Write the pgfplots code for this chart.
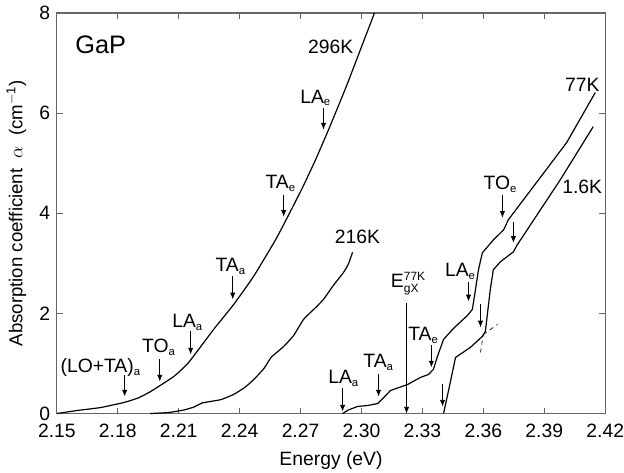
\documentclass[border=0pt]{standalone}
\usepackage{fontspec}
\setmainfont{Liberation Sans}
\usepackage{pgfplots}
\pgfplotsset{compat=1.18}
\usetikzlibrary{arrows.meta}
\newcommand{\sbs}[1]{\textsubscript{\fontsize{8.5}{9}\selectfont #1}}
\begin{document}
\fontsize{14.5}{17}\selectfont
\begin{tikzpicture}[
  lab/.style={anchor=base, inner sep=0pt, font=\fontsize{14.5}{17}\selectfont},
  arr/.style={-{Latex[length=5pt,width=4pt]}, line width=0.6pt, black},
]
\begin{axis}[
  scale only axis, width=411.75pt, height=300.75pt,
  xmin=2.15, xmax=2.42, ymin=0, ymax=8,
  xtick={2.15,2.18,2.21,2.24,2.27,2.30,2.33,2.36,2.39,2.42},
  ytick={0,2,4,6,8},
  xticklabel style={inner xsep=0pt, inner ysep=1pt, yshift=-6.5pt, /pgf/number format/.cd, fixed, fixed zerofill, precision=2},
  yticklabel style={inner ysep=1pt},
  tick label style={font=\fontsize{14.5}{17}\selectfont},
  xlabel style={font=\fontsize{14.5}{17}\selectfont, inner ysep=2pt, yshift=-7.5pt},
  ylabel style={font=\fontsize{14}{17}\selectfont},
  /pgf/number format/assume math mode=true,
  tick align=inside, major tick length=4.5pt,
  axis line style={black!60, line width=0.9pt},
  tick style={black!60, line width=0.9pt},
  xlabel={Energy (eV)},
  ylabel={Absorption coefficient \ $\alpha$ \ (cm\textsuperscript{$-$1})},
  clip=false,
]
% 296K
\addplot[black, line width=0.9pt, smooth, tension=0.3] coordinates {
(2.150,0.00) (2.160,0.06) (2.1716,0.12) (2.183,0.22) (2.1900,0.31) (2.1962,0.44)
(2.2076,0.74) (2.2149,1.02) (2.2272,1.68) (2.2371,2.18) (2.2469,2.74)
(2.2577,3.47) (2.2638,3.94) (2.2713,4.54) (2.2774,5.07) (2.2838,5.67)
(2.2925,6.53) (2.2995,7.27) (2.3064,8.00)};
% 216K
\addplot[black, line width=0.9pt, smooth, tension=0.3] coordinates {
(2.196,0.00) (2.205,0.02) (2.2125,0.07) (2.2175,0.13) (2.2215,0.21) (2.2255,0.24)
(2.231,0.28) (2.237,0.38) (2.2425,0.52) (2.247,0.68) (2.252,0.90) (2.2555,1.12)
(2.2617,1.34) (2.2666,1.56) (2.2715,1.88) (2.2775,2.12) (2.2813,2.28) (2.286,2.55)
(2.291,2.81) (2.2935,2.98) (2.2956,3.22)};
% 77K
\addplot[black, line width=0.9pt] coordinates {
(2.2907,0.00) (2.2935,0.07) (2.298,0.14) (2.303,0.16) (2.308,0.20) (2.311,0.32)
(2.3143,0.46) (2.3227,0.58) (2.329,0.72) (2.333,0.78) (2.3354,0.88) (2.3374,1.14)
(2.3404,1.48) (2.3453,1.70) (2.3522,1.96) (2.3546,2.08) (2.3561,2.47) (2.3576,2.87)
(2.3595,3.21) (2.365,3.47) (2.370,3.67) (2.3723,3.87) (2.3846,4.53) (2.401,5.41)
(2.4151,6.41)};
% 1.6K
\addplot[black, line width=0.9pt] coordinates {
(2.3404,0.00) (2.3435,0.58) (2.3463,1.12) (2.3536,1.32) (2.3595,1.54) (2.361,1.64)
(2.3634,2.47) (2.3649,2.87) (2.3684,3.03) (2.3748,3.23) (2.3767,3.37) (2.3979,4.67)
(2.4141,5.73)};
% dashed extrapolations
\addplot[black, line width=0.5pt, dashed] coordinates {(2.3586,1.22) (2.3600,1.58)};
\addplot[black, line width=0.5pt, dashed] coordinates {(2.3600,1.58) (2.3670,1.78)};

% room above the frame, as in the reference
\path (rel axis cs:0.5,1) ++(0pt,9.75pt);

% labels
\node[lab, font=\fontsize{19}{22}\selectfont] at (axis cs:2.1716,7.20) {GaP};
\node[lab] at (axis cs:2.2848,7.20) {296K};
\node[lab] at (axis cs:2.2980,3.40) {216K};
\node[lab] at (axis cs:2.4087,6.44) {77K};
\node[lab] at (axis cs:2.4087,4.40) {1.6K};

\node[lab] at (axis cs:2.2774,6.20) {LA\sbs{e}};
\draw[arr] (axis cs:2.2813,6.10) -- (axis cs:2.2813,5.67);
\node[lab] at (axis cs:2.2602,4.50) {TA\sbs{e}};
\draw[arr] (axis cs:2.2617,4.37) -- (axis cs:2.2617,3.93);
\node[lab] at (axis cs:2.2356,2.84) {TA\sbs{a}};
\draw[arr] (axis cs:2.2366,2.74) -- (axis cs:2.2366,2.28);
\node[lab] at (axis cs:2.2144,1.71) {LA\sbs{a}};
\draw[arr] (axis cs:2.2159,1.64) -- (axis cs:2.2159,1.18);
\node[lab] at (axis cs:2.2002,1.21) {TO\sbs{a}};
\draw[arr] (axis cs:2.2007,1.08) -- (axis cs:2.2007,0.64);
\node[lab] at (axis cs:2.1716,0.81) {(LO+TA)\sbs{a}};
\draw[arr] (axis cs:2.1834,0.76) -- (axis cs:2.1834,0.34);

\node[lab] at (axis cs:2.2912,0.59) {LA\sbs{a}};
\draw[arr] (axis cs:2.2907,0.50) -- (axis cs:2.2907,0.04);
\node[lab] at (axis cs:2.3084,0.91) {TA\sbs{a}};
\draw[arr] (axis cs:2.3084,0.78) -- (axis cs:2.3084,0.34);
\node[lab] at (axis cs:2.3231,2.52) {E$^{\mbox{\fontsize{9}{9}\selectfont 77K}}_{\mbox{\fontsize{9}{9}\selectfont gX}}$};
\draw[arr] (axis cs:2.3222,2.20) -- (axis cs:2.3222,0.00);
\node[lab] at (axis cs:2.3305,1.45) {TA\sbs{e}};
\draw[arr] (axis cs:2.3344,1.36) -- (axis cs:2.3344,0.92);
\node[lab] at (axis cs:2.3487,2.74) {LA\sbs{e}};
\draw[arr] (axis cs:2.3527,2.63) -- (axis cs:2.3527,2.24);
\draw[arr] (axis cs:2.3586,2.18) -- (axis cs:2.3586,1.72);
\draw[arr] (axis cs:2.3399,0.58) -- (axis cs:2.3399,0.14);
\node[lab] at (axis cs:2.3684,4.48) {TO\sbs{e}};
\draw[arr] (axis cs:2.3694,4.37) -- (axis cs:2.3694,3.91);
\draw[arr] (axis cs:2.3748,3.83) -- (axis cs:2.3748,3.41);
\end{axis}
\end{tikzpicture}
\end{document}
